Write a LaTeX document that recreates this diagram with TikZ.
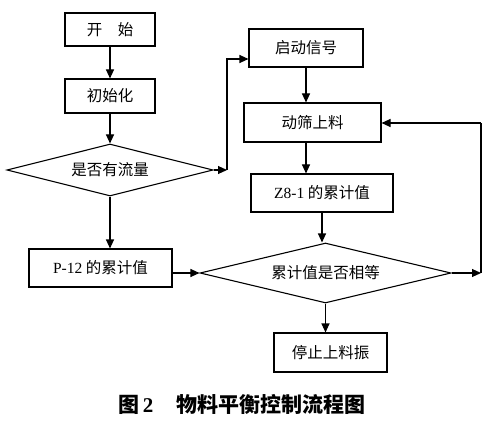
\documentclass[tikz,border=0pt]{standalone}
\usepackage{fontspec}
\setmainfont{Liberation Serif}
\newfontfamily\cjk{Noto Sans CJK SC}
\usetikzlibrary{shapes.geometric,arrows.meta}
\tikzset{
  box/.style={draw, line width=1.1pt, rectangle, inner sep=0pt, font=\cjk\fontsize{15.5}{15.5}\selectfont},
  dia/.style={draw, line width=1.1pt, diamond, shape aspect=4, inner sep=0pt, font=\cjk\fontsize{15.5}{15.5}\selectfont},
  arr/.style={line width=1.1pt, -{Triangle[length=9pt,width=8pt]}},
  ln/.style={line width=1.1pt}
}
\begin{document}
\begin{tikzpicture}[x=1pt,y=-1pt]
\useasboundingbox (0,0) rectangle (495,422);
\node[box, minimum width=90, minimum height=33] (start) at (110,29.5) {开　始};
\node[box, minimum width=90, minimum height=34] (init) at (110,96) {初始化};
\node[dia, minimum width=206, minimum height=52] (d1) at (110,170) {是否有流量};
\node[box, minimum width=114, minimum height=38] (sig) at (306,48) {启动信号};
\node[box, minimum width=137, minimum height=39] (feed) at (312.5,122.5) {动筛上料};
\node[box, minimum width=142, minimum height=38] (z8) at (322,193) {{\rmfamily Z8-1} 的累计值};
\node[box, minimum width=143, minimum height=38] (p12) at (100.5,268) {{\rmfamily P-12} 的累计值};
\node[dia, minimum width=251, minimum height=60] (d2) at (325.5,273) {累计值是否相等};
\node[box, minimum width=113, minimum height=39] (stop) at (330.5,352.5) {停止上料振};
\node[font=\fontsize{21}{21}\selectfont] (cap) at (242,404) {{\cjk\bfseries 图}\,\textbf{2}\hspace{1.1em}{\cjk\bfseries 物料平衡控制流程图}};
\coordinate (c1) at (227,170);
\coordinate (c2) at (227,59);
\coordinate (c3) at (481,273);
\coordinate (c4) at (481,123);
\draw[arr] (start.south) -- (init.north);
\draw[arr] (init.south) -- (d1.north);
\draw[arr] (d1.east) -- (c1);
\draw[arr] (c1) -- (c2) -- (c2 -| sig.west);
\draw[arr] (sig.south) -- (sig.south |- feed.north);
\draw[arr] (feed.south -| sig.south) -- (z8.north -| sig.south);
\draw[arr] (z8.south) -- (z8.south |- d2.north);
\draw[arr] (d1.south) -- (d1.south |- p12.north);
\draw[arr] (p12.east |- d2.west) -- (d2.west);
\draw[arr] (d2.east) -- (c3);
\draw[ln] (c3) -- (c4);
\draw[arr] (c4) -- (feed.east |- c4);
\draw[arr] (d2.south) -- (d2.south |- stop.north);
\end{tikzpicture}
\end{document}
